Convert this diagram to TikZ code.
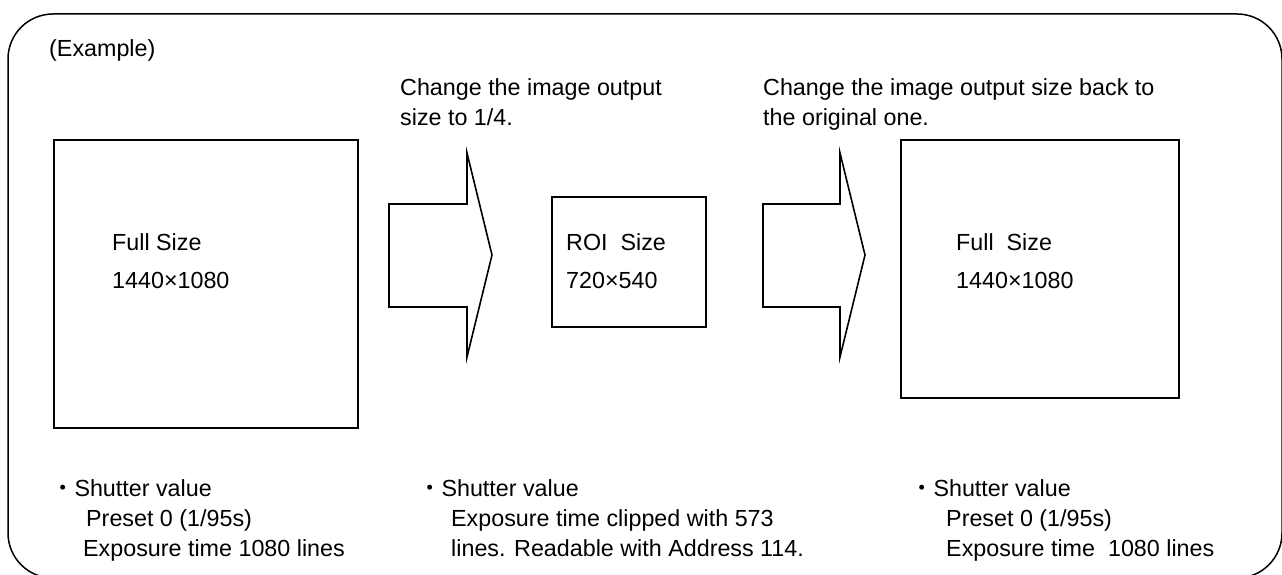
\documentclass[tikz,border=0pt]{standalone}
\usepackage{fontspec}
\setmainfont{Liberation Sans}
\newfontfamily\cjkfont{Noto Sans CJK JP}
\newcommand{\bul}{{\cjkfont ・}}
\begin{document}
\begin{tikzpicture}[x=1pt,y=-1pt,
  shape line/.style={draw=black,line width=1.6pt,line join=miter},
  txt/.style={anchor=base west,inner sep=0pt,font=\fontsize{23.3}{28}\selectfont}]
\useasboundingbox (0,0) rectangle (1282,575);
\draw[line width=1.5pt,rounded corners=45pt] (8,14) rectangle (1282,578);
% boxes
\draw[shape line] (54,140) rectangle (358,428);
\draw[shape line] (552,197) rectangle (706,327);
\draw[shape line] (901,140) rectangle (1179,398);
% arrows
\draw[shape line] (389,204) -- (467,204) -- (467,153) -- (492,255) -- (467,357) -- (467,307) -- (389,307) -- cycle;
\draw[shape line] (763,204) -- (840,204) -- (840,153) -- (865,255) -- (840,357) -- (840,307) -- (763,307) -- cycle;
% texts
\node[txt] (ex) at (49,57) {(Example)};
\node[txt] (c1a) at (400,96) {Change the image output};
\node[txt] (c1b) at (400,126) {size to 1/4.};
\node[txt] (c2a) at (763,96) {Change the image output size back to};
\node[txt] (c2b) at (763,126) {the original one.};
\node[txt] (f1a) at (112,250) {Full Size};
\node[txt] (f1b) at (112,288) {1440×1080};
\node[txt] (r1a) at (566,250) {ROI\ \ Size};
\node[txt] (r1b) at (566,288) {720×540};
\node[txt] (f2a) at (956,250) {Full\ \ Size};
\node[txt] (f2b) at (956,288) {1440×1080};
\node[txt] (l1) at (51,496) {\bul Shutter value};
\node[txt] (l2) at (86,526) {Preset 0 (1/95s)};
\node[txt] (l3) at (83,556) {Exposure time 1080 lines};
\node[txt] (m1) at (418,496) {\bul Shutter value};
\node[txt] (m2) at (451,526) {Exposure time clipped with 573};
\node[txt] (m3) at (451,556) {lines. Readable with Address 114.};
\node[txt] (r1) at (910,496) {\bul Shutter value};
\node[txt] (r2) at (946,526) {Preset 0 (1/95s)};
\node[txt] (r3) at (946,556) {Exposure time\ \ 1080 lines};
\end{tikzpicture}
\end{document}
